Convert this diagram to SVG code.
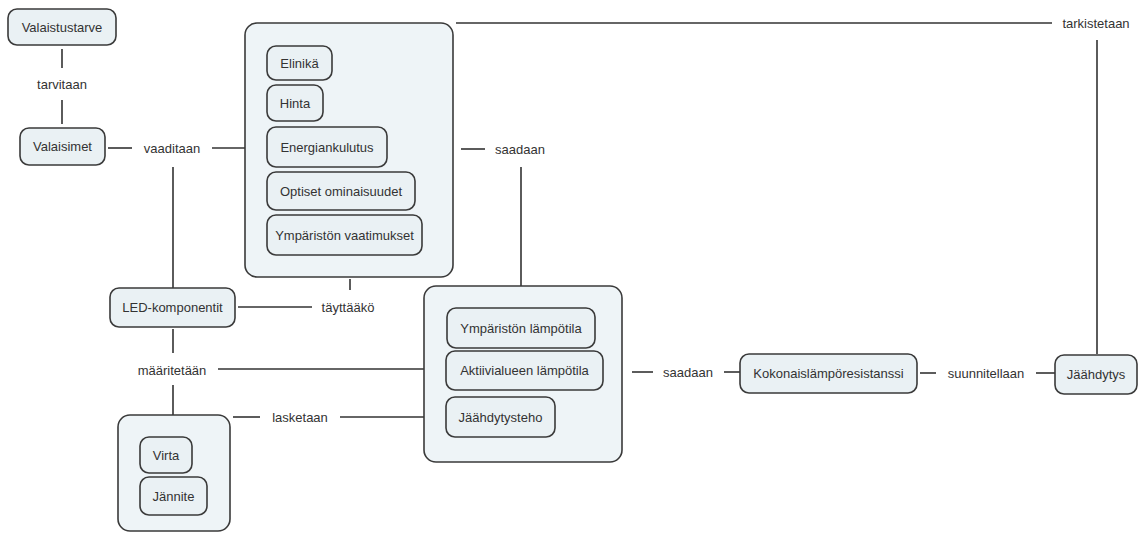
<svg xmlns="http://www.w3.org/2000/svg" width="1146" height="533" viewBox="0 0 1146 533">
<defs>
<style>
.bg{fill:#ffffff}
.box{fill:#eaf1f4;stroke:#3a3a3a;stroke-width:1.6}
.cont{fill:#eef4f7;stroke:#3a3a3a;stroke-width:1.6}
.t{font-family:"Liberation Sans",Arial,sans-serif;font-size:13px;fill:#333;text-anchor:middle;dominant-baseline:central}
.c line{stroke:#333;stroke-width:1.6}
</style>
</defs>
<rect class="bg" x="0" y="0" width="1146" height="533"/>
<g class="c" id="connectors">
<line x1="62" y1="49" x2="62" y2="68"/>
<line x1="62" y1="100" x2="62" y2="124"/>
<line x1="108" y1="148" x2="132" y2="148"/>
<line x1="212" y1="148" x2="245" y2="148"/>
<line x1="173" y1="167" x2="173" y2="288"/>
<line x1="456" y1="23" x2="1052" y2="23"/>
<line x1="1097" y1="40" x2="1097" y2="354"/>
<line x1="461" y1="149" x2="485" y2="149"/>
<line x1="521" y1="167" x2="521" y2="308"/>
<line x1="350" y1="279" x2="350" y2="290"/>
<line x1="238" y1="307" x2="312" y2="307"/>
<line x1="173" y1="329" x2="173" y2="353"/>
<line x1="173" y1="385" x2="173" y2="415"/>
<line x1="218" y1="369" x2="446" y2="369"/>
<line x1="233" y1="417" x2="260" y2="417"/>
<line x1="340" y1="417" x2="446" y2="417"/>
<line x1="632" y1="372" x2="653" y2="372"/>
<line x1="724" y1="372" x2="740" y2="372"/>
<line x1="920" y1="373" x2="936" y2="373"/>
<line x1="1036" y1="373" x2="1055" y2="373"/>
</g>
<g id="labels">
<text class="t" x="62" y="84">tarvitaan</text>
<text class="t" x="172" y="148">vaaditaan</text>
<text class="t" x="520" y="149">saadaan</text>
<text class="t" x="348" y="307">täyttääkö</text>
<text class="t" x="172" y="370">määritetään</text>
<text class="t" x="300" y="417">lasketaan</text>
<text class="t" x="688" y="372">saadaan</text>
<text class="t" x="986" y="373">suunnitellaan</text>
<text class="t" x="1096" y="23">tarkistetaan</text>
</g>
<g id="valaistustarve"><rect class="box" x="8" y="9" width="108" height="36" rx="9"/><text class="t" x="62" y="27">Valaistustarve</text></g>
<g id="valaisimet"><rect class="box" x="20" y="128" width="85" height="37" rx="9"/><text class="t" x="62.5" y="146.5">Valaisimet</text></g>
<g id="vaatimukset">
<rect class="cont" x="245" y="23" width="208" height="254" rx="12"/>
<g id="elinika"><rect class="box" x="267" y="46" width="65" height="34" rx="9"/><text class="t" x="299.5" y="63">Elinikä</text></g>
<g id="hinta"><rect class="box" x="267" y="85" width="56" height="36" rx="9"/><text class="t" x="295" y="103">Hinta</text></g>
<g id="energiankulutus"><rect class="box" x="267" y="127" width="120" height="40" rx="9"/><text class="t" x="327" y="147">Energiankulutus</text></g>
<g id="optiset"><rect class="box" x="267" y="172" width="148" height="38" rx="9"/><text class="t" x="341" y="191">Optiset ominaisuudet</text></g>
<g id="ymparisto-vaat"><rect class="box" x="267" y="215" width="155" height="40" rx="9"/><text class="t" x="344.5" y="235">Ympäristön vaatimukset</text></g>
</g>
<g id="led"><rect class="box" x="110" y="288" width="125" height="39" rx="9"/><text class="t" x="172.5" y="307.5">LED-komponentit</text></g>
<g id="lampotilat">
<rect class="cont" x="424" y="286" width="198" height="176" rx="12"/>
<g id="ymparisto-lampo"><rect class="box" x="447" y="308" width="148" height="40" rx="9"/><text class="t" x="521" y="328">Ympäristön lämpötila</text></g>
<g id="aktiivialue"><rect class="box" x="446" y="351" width="157" height="39" rx="9"/><text class="t" x="524.5" y="370.5">Aktiivialueen lämpötila</text></g>
<g id="jaahdytysteho"><rect class="box" x="446" y="397" width="109" height="40" rx="9"/><text class="t" x="500.5" y="417">Jäähdytysteho</text></g>
</g>
<g id="sahko">
<rect class="cont" x="118" y="415" width="112" height="116" rx="12"/>
<g id="virta"><rect class="box" x="140" y="437" width="52" height="36" rx="9"/><text class="t" x="166" y="455">Virta</text></g>
<g id="jannite"><rect class="box" x="140" y="477" width="67" height="38" rx="9"/><text class="t" x="173.5" y="496">Jännite</text></g>
</g>
<g id="kokonais"><rect class="box" x="740" y="354" width="177" height="39" rx="9"/><text class="t" x="828.5" y="373.5">Kokonaislämpöresistanssi</text></g>
<g id="jaahdytys"><rect class="box" x="1055" y="355" width="82" height="39" rx="9"/><text class="t" x="1096" y="374.5">Jäähdytys</text></g>
</svg>
